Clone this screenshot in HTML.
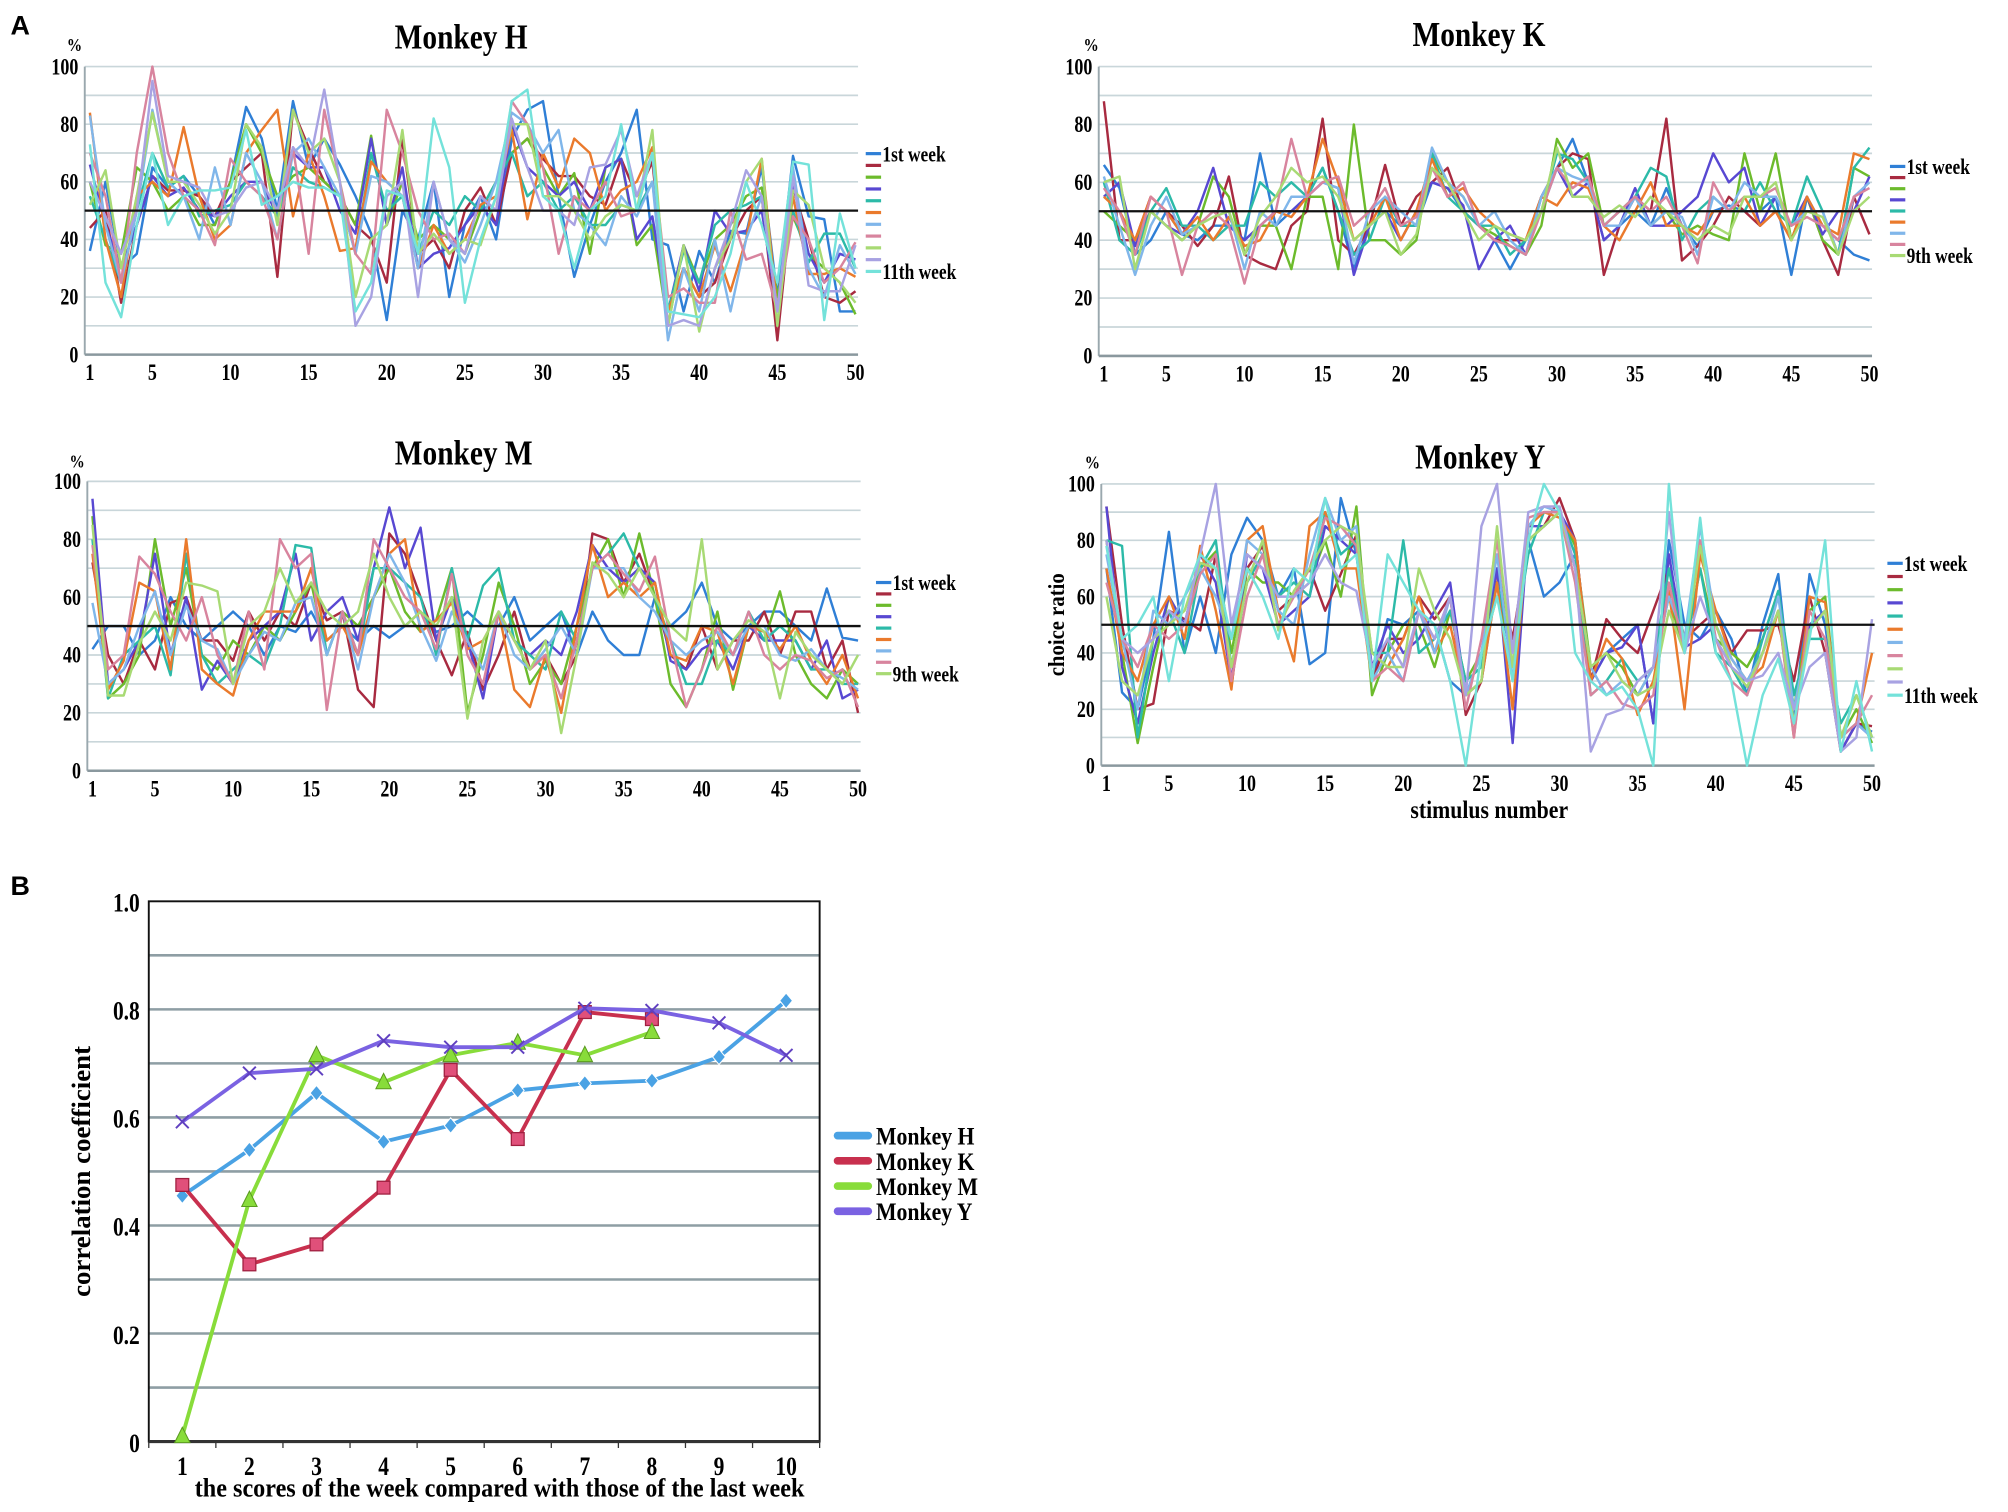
<!DOCTYPE html>
<html><head><meta charset="utf-8"><style>
html,body{margin:0;padding:0;background:#fff;}
svg{display:block;font-family:"Liberation Serif",serif;font-weight:bold;}
</style></head><body>
<svg id="fig" width="2008" height="1512" viewBox="0 0 1568 1181" xmlns="http://www.w3.org/2000/svg">
<text x="8" y="27" font-family="Liberation Sans" font-size="21" font-weight="bold">A</text>
<text x="8" y="699" font-family="Liberation Sans" font-size="21" font-weight="bold">B</text>
</svg>
<script>
const weekColors = ["#2f7fd6","#a82a40","#6cbb2c","#5848d2","#2cbaa8","#ea7a2c","#80b6ea","#d8849e","#a8da74","#a8a2e2","#74e2da"];
const xTicks = [1,5,10,15,20,25,30,35,40,45,50];
const yTicks = [0,20,40,60,80,100];

const h1=[36,60,30,35,65,58,62,55,45,60,86,75,50,88,65,75,66,55,42,12,50,40,60,20,45,55,40,75,85,88,55,27,45,60,70,85,40,38,15,36,25,43,42,65,20,69,48,47,15,15];
const h2=[44,50,18,45,62,57,57,55,48,60,65,70,27,85,72,60,55,45,40,25,75,35,40,30,50,58,45,70,75,68,62,62,55,52,68,55,67,15,30,20,25,40,50,55,5,58,40,20,18,22];
const h3=[60,38,35,65,60,50,55,45,45,60,80,70,55,62,65,60,55,45,76,45,60,40,45,40,35,50,60,70,75,65,55,63,35,65,68,38,45,10,38,25,40,45,55,58,20,48,35,30,25,14];
const h4=[66,45,30,45,62,55,58,50,48,55,60,60,48,70,65,65,50,42,75,45,65,30,35,37,45,52,45,80,65,60,55,60,50,65,68,40,48,15,38,22,50,42,43,50,15,60,35,25,35,33];
const h5=[55,40,25,50,70,58,62,48,50,52,60,55,48,65,60,58,55,35,70,50,55,35,50,45,55,50,60,70,55,60,50,55,45,45,52,50,60,15,36,25,45,50,52,55,15,50,32,42,42,30];
const h6=[84,40,20,55,60,55,79,55,40,45,70,78,85,48,70,55,36,37,67,60,55,30,45,35,40,52,55,78,47,70,58,75,70,50,57,60,72,15,30,20,38,22,40,68,15,55,28,28,30,27];
const h7=[83,45,25,50,85,60,55,40,65,45,70,60,40,70,75,65,55,35,62,60,55,30,60,40,32,45,60,84,80,70,78,50,45,38,55,48,60,5,30,15,40,15,40,55,15,65,30,20,38,28];
const h8=[70,55,25,70,100,70,55,50,38,68,60,55,40,72,35,85,60,35,28,85,70,50,40,42,35,55,50,88,80,65,35,55,50,60,48,50,70,20,23,18,18,50,33,35,15,48,40,25,30,39];
const h9=[52,64,30,55,84,60,60,52,42,50,80,72,45,85,70,75,60,20,40,45,78,35,42,35,40,38,55,80,80,55,55,50,40,48,52,50,78,10,38,8,30,40,60,68,10,57,52,30,25,18];
const h10=[60,48,35,50,95,62,60,58,48,50,58,60,50,72,65,92,60,10,20,55,60,20,60,40,35,55,50,82,65,50,50,45,65,66,78,55,70,10,12,10,30,45,64,55,15,62,24,22,22,38];
const h11=[73,25,13,45,70,45,55,57,57,58,78,52,55,60,58,58,55,15,25,57,55,35,82,65,18,40,55,88,92,55,50,30,50,55,80,50,70,15,14,13,20,35,60,45,25,67,66,12,49,30];

const k1=[66,58,35,40,50,42,40,45,45,40,70,45,50,55,65,50,30,45,50,45,45,60,58,50,45,40,30,40,50,65,75,60,40,45,50,45,58,45,38,50,52,50,50,55,28,55,45,40,35,33];
const k2=[88,40,40,55,50,45,38,45,62,35,32,30,45,50,82,40,35,45,66,45,55,60,65,50,45,40,40,40,55,65,70,68,28,45,55,50,82,33,38,45,55,50,45,50,40,55,40,28,55,42];
const k3=[50,45,40,50,45,40,45,62,55,35,45,45,30,55,55,30,80,40,40,35,40,70,60,55,45,42,38,35,45,75,65,70,45,50,55,45,50,42,45,42,40,70,50,70,40,55,40,35,65,62];
const k4=[55,60,38,50,45,42,50,65,45,40,45,50,50,55,60,58,28,45,50,40,50,60,58,52,30,40,45,35,55,65,55,60,40,45,58,45,45,50,55,70,60,65,45,55,45,55,42,50,50,62];
const k5=[60,40,35,50,58,45,45,40,45,45,60,55,60,55,65,50,35,40,55,45,45,70,55,50,45,45,35,40,50,70,68,60,45,50,55,65,62,40,50,55,50,50,60,50,45,62,50,35,65,72];
const k6=[55,50,40,55,50,42,48,40,48,38,40,50,48,55,75,60,40,45,55,40,50,68,55,58,50,45,42,40,55,52,60,58,45,40,50,60,45,45,42,50,50,55,45,50,40,55,45,42,70,68];
const k7=[62,45,28,45,55,42,45,50,50,30,50,45,55,55,60,58,32,50,55,50,45,72,60,55,45,50,40,35,55,65,62,60,45,45,55,45,50,48,35,55,50,60,55,55,45,50,50,35,55,60];
const k8=[58,50,35,55,50,28,45,50,45,25,45,50,75,55,60,62,45,50,58,45,48,65,55,60,45,40,38,35,50,65,58,62,45,50,55,50,55,45,32,60,50,55,55,58,45,48,45,40,55,58];
const k9=[60,62,30,50,45,40,45,48,50,35,48,55,65,60,62,55,40,45,50,35,42,65,60,50,40,45,42,40,50,72,55,55,48,52,48,55,50,45,40,45,42,55,55,60,40,50,48,35,50,55];

const m1=[42,50,50,40,45,60,50,45,50,55,50,40,50,48,55,45,50,45,50,46,50,55,48,50,55,50,50,60,45,50,55,40,55,45,40,40,60,50,55,65,50,45,50,55,55,50,45,63,46,45];
const m2=[72,40,30,45,35,58,60,45,45,38,55,45,55,50,65,52,55,28,22,82,75,60,45,33,48,28,40,55,35,40,30,40,82,80,65,75,60,40,35,50,35,45,45,55,40,55,55,35,45,20];
const m3=[88,25,30,40,80,50,70,40,35,45,40,50,45,55,65,40,55,50,60,70,55,48,52,70,20,40,65,50,30,38,30,50,70,80,60,82,60,30,22,35,55,28,50,45,62,40,30,25,35,30];
const m4=[94,30,35,45,75,40,60,28,38,30,45,50,55,75,45,55,60,45,70,91,70,84,45,60,45,25,55,45,40,45,40,55,78,70,65,70,65,38,35,42,45,35,50,45,45,45,35,45,25,28];
const m5=[80,25,40,45,50,33,75,40,30,35,40,36,50,78,77,40,55,40,70,70,65,60,40,70,45,64,70,45,40,35,55,45,70,75,82,70,60,45,30,30,45,40,55,45,50,45,35,35,30,30];
const m6=[75,28,38,65,62,35,80,35,30,26,45,55,55,55,70,45,50,40,60,75,80,48,52,58,42,45,55,28,22,40,20,50,78,60,65,60,65,40,38,50,48,30,50,48,42,50,38,30,40,25];
const m7=[58,30,35,50,62,40,57,45,42,30,40,48,45,58,60,40,55,35,60,75,65,50,38,55,45,35,55,40,35,42,50,40,70,70,70,60,55,45,40,45,48,40,50,50,40,38,42,35,32,28];
const m8=[78,35,40,74,68,55,45,60,40,30,55,35,80,70,75,21,55,40,80,70,60,55,42,68,40,30,55,45,35,40,25,45,70,75,68,62,74,45,22,35,50,40,55,40,35,40,38,32,35,22];
const m9=[85,26,26,44,55,45,65,64,62,30,50,55,70,58,65,55,50,55,75,60,50,55,50,60,18,45,55,45,35,45,13,40,72,68,60,70,60,50,45,80,35,45,52,48,25,48,40,35,30,40];

const y1=[70,26,20,45,83,40,60,40,75,88,80,60,70,36,40,95,75,30,52,50,55,50,30,25,30,65,35,80,60,65,75,30,40,45,50,15,80,50,45,55,45,25,50,68,15,68,50,10,15,12];
const y2=[92,50,20,22,55,52,48,75,28,70,78,55,60,70,55,68,82,30,45,45,60,52,60,18,30,70,45,80,85,95,80,30,52,45,40,55,70,45,50,55,40,48,48,50,30,60,40,5,15,14];
const y3=[80,40,8,35,60,50,70,76,40,70,65,65,60,65,80,60,92,25,40,50,50,35,55,30,40,60,40,80,85,90,78,35,40,35,25,35,60,40,70,45,40,35,45,62,20,55,60,10,20,8];
const y4=[92,35,15,40,60,50,75,65,30,75,70,50,55,60,85,80,75,35,50,40,45,55,65,25,40,70,8,85,85,90,80,30,40,42,50,15,75,42,45,50,35,30,40,55,15,50,55,5,15,10];
const y5=[80,78,10,45,55,40,70,80,35,65,75,60,65,60,90,75,80,40,40,80,40,45,55,30,35,65,40,75,90,90,75,25,30,38,30,35,70,40,70,40,35,25,45,62,25,45,45,15,25,10];
const y6=[70,40,30,50,60,45,78,55,27,80,85,55,37,85,90,70,70,30,35,45,60,40,50,25,30,65,20,85,90,88,80,30,45,38,18,30,62,20,75,55,38,30,35,55,10,60,58,10,15,40];
const y7=[75,45,20,55,50,60,70,60,45,80,75,55,50,75,95,80,85,30,40,30,55,40,60,25,40,75,30,85,92,90,70,35,25,30,25,35,60,45,85,50,38,30,40,60,20,48,55,10,15,10];
const y8=[65,45,35,50,45,50,68,75,30,60,75,50,60,70,88,85,78,30,35,30,55,45,60,20,45,80,40,88,90,90,65,25,30,22,20,25,65,40,80,45,30,25,40,55,10,55,45,10,15,25];
const y9=[60,30,25,45,50,55,72,70,35,65,80,48,62,70,80,85,82,40,35,35,70,55,45,25,30,85,35,80,85,90,70,35,40,30,25,28,55,40,78,50,35,28,40,55,15,48,55,10,25,10];
const y10=[80,45,40,45,55,50,75,100,50,75,70,60,60,65,75,65,62,35,45,35,55,45,60,25,85,100,40,90,92,92,70,5,18,20,30,35,90,40,60,45,35,30,32,40,20,35,40,5,10,52];
const y11=[78,45,50,60,30,60,75,70,45,70,60,45,70,65,95,70,75,30,75,65,55,50,30,0,40,60,30,80,100,90,40,30,25,28,20,0,100,40,88,40,30,0,25,38,15,45,80,5,30,5];

const corrCats=[1,2,3,4,5,6,7,8,9,10];
const corrTicks=[0,0.2,0.4,0.6,0.8,1.0];
const corrH=[0.455,0.54,0.645,0.555,0.585,0.65,0.663,0.668,0.712,0.816];
const corrK=[0.475,0.328,0.365,0.47,0.688,0.56,0.795,0.782];
const corrM=[0.01,0.447,0.715,0.665,0.715,0.738,0.715,0.758];
const corrY=[0.592,0.682,0.69,0.742,0.73,0.73,0.802,0.798,0.775,0.715];

const NS="http://www.w3.org/2000/svg";
const svg=document.getElementById('fig');
function mk(tag,attrs,parent){const e=document.createElementNS(NS,tag);for(const k in attrs)e.setAttribute(k,attrs[k]);(parent||svg).appendChild(e);return e;}
// condensed text: placed via transform with horizontal squeeze
function txt(parent,x,y,str,size,anchor,sx,rot){
  let tr='translate('+x+','+y+')';
  if(rot)tr+=' rotate('+rot+')';
  tr+=' scale('+(sx||0.82)+',1)';
  const t=mk('text',{x:0,y:0,'text-anchor':anchor||'start','font-size':size,transform:tr},parent);
  t.textContent=str;
  return t;
}

function panel(id,title,series,x0,x1,yTop,yBot,tx,ty,px,py,lx,ly,ldy,firstLab,lastLab,extra){
  const g=mk('g',{});
  
  
  const xs=i=>x0+(i-1)*(x1-x0)/49;
  const ys=v=>yBot-(v/100)*(yBot-yTop);
  const gl=x0-4, gr=x1+2;
  for(let v=10;v<=100;v+=10){const l=mk('line',{x1:gl,x2:gr,y1:ys(v),y2:ys(v),stroke:'#c9d6da','stroke-width':1.3},g);
    
    }
  const ax=mk('line',{x1:gl,x2:gl,y1:yTop,y2:yBot,stroke:'#9aa8ae','stroke-width':1.5},g);
  
  
  const bx=mk('line',{x1:gl,x2:gr,y1:yBot,y2:yBot,stroke:'#8a989e','stroke-width':2},g);
  
  
  yTicks.forEach(v=>{const t=txt(g,gl-5,ys(v)+6,String(v),18,'end',0.78);
    
    });
  xTicks.forEach(v=>{const t=txt(g,xs(v),yBot+20,String(v),18,'middle',0.78);
    
    });
  series.forEach((s,si)=>{
    const p=mk('polyline',{points:s.map((v,i)=>xs(i+1)+','+ys(v)).join(' '),fill:'none',stroke:weekColors[si],'stroke-width':1.9,'stroke-linejoin':'round'},g);
    
    
    const lg=mk('line',{x1:lx,x2:lx+12,y1:ly+si*ldy,y2:ly+si*ldy,stroke:weekColors[si],'stroke-width':2.5},g);
    
    
  });
  const f=txt(g,lx+13,ly+6,firstLab,17,'start',0.8);
  
  
  const la=txt(g,lx+13,ly+(series.length-1)*ldy+6,lastLab,17,'start',0.8);
  
  
  const ref=mk('line',{x1:gl,x2:gr,y1:ys(50),y2:ys(50),stroke:'#111','stroke-width':1.8},g);
  
  
  const tt=txt(g,tx,ty,title,27,'middle',0.85);
  
  
  const pc=txt(g,px,py,'%',14,'middle',0.85);
  
  
  if(extra){
    const a=txt(g,x0-33,(yTop+yBot)/2,'choice ratio',18,'middle',0.9,-90);
    
    
    const b=txt(g,(x0+x1)/2,yBot+41,'stimulus number',20,'middle',0.85);
    
    
  }
}
panel('monkey-h','Monkey H',[h1,h2,h3,h4,h5,h6,h7,h8,h9,h10,h11],70,668,52,277,360,38,58,40,676,120,9.2,'1st week','11th week',false);
panel('monkey-k','Monkey K',[k1,k2,k3,k4,k5,k6,k7,k8,k9],862,1460,52,278,1155,36,852,40,1476,130,8.7,'1st week','9th week',false);
panel('monkey-m','Monkey M',[m1,m2,m3,m4,m5,m6,m7,m8,m9],72,670,376,602,362,363,60,365,684,455,8.9,'1st week','9th week',false);
panel('monkey-y','Monkey Y',[y1,y2,y3,y4,y5,y6,y7,y8,y9,y10,y11],864,1462,378,598,1156,366,853,366,1474,440,10.3,'1st week','11th week',true);

// Panel B
(function(){
  const L=116,R=640,T=704,B=1126;
  const g=mk('g',{});
  
  
  const bw=(R-L)/corrCats.length;
  const xs=c=>L+(c-0.5)*bw;
  const ys=v=>B-v*(B-T);
  for(let k=1;k<10;k++){const l=mk('line',{x1:L,x2:R,y1:ys(k/10),y2:ys(k/10),stroke:'#8e9ea4','stroke-width':2},g);
    
    }
  const fr=mk('rect',{x:L,y:T,width:R-L,height:B-T,fill:'none',stroke:'#111','stroke-width':1.5},g);
  
  
  mk('line',{x1:L,x2:R,y1:B,y2:B,stroke:'#333','stroke-width':2.5},g);
  for(let k=0;k<=corrCats.length;k++){mk('line',{x1:L+k*bw,x2:L+k*bw,y1:B,y2:B+5,stroke:'#333','stroke-width':1},g);}
  corrTicks.forEach(v=>{const t=txt(g,L-7,ys(v)+8,(v===0?'0':v.toFixed(1)),21,'end',0.8);
    
    });
  corrCats.forEach(c=>{const t=txt(g,xs(c),B+26,String(c),21,'middle',0.8);
    
    });
  const yt=txt(g,70,(T+B)/2,'correlation coefficient',21,'middle',1.0,-90);
  
  
  const xt=txt(g,390,1169,'the scores of the week compared with those of the last week',21,'middle',0.9);
  
  
  const defs=[['Monkey H',corrH,'#4aa2e4','diamond'],['Monkey K',corrK,'#c8304e','square'],['Monkey M',corrM,'#88dc3a','triangle'],['Monkey Y',corrY,'#7a62e2','x']];
  defs.forEach((d,di)=>{
    const [name,vals,col,mark]=d;
    const p=mk('polyline',{points:vals.map((v,i)=>xs(i+1)+','+ys(v)).join(' '),fill:'none',stroke:col,'stroke-width':3,'stroke-linejoin':'round'},g);
    
    
    vals.forEach((v,i)=>{
      const cx=xs(i+1),cy=ys(v);let m;
      if(mark==='diamond')m=mk('polygon',{points:`${cx},${cy-6} ${cx+5},${cy} ${cx},${cy+6} ${cx-5},${cy}`,fill:col,stroke:'#fff','stroke-width':0.8},g);
      else if(mark==='square')m=mk('rect',{x:cx-5,y:cy-5,width:10,height:10,fill:'#e0507a',stroke:'#a02040','stroke-width':1},g);
      else if(mark==='triangle')m=mk('polygon',{points:`${cx},${cy-7} ${cx+6},${cy+5} ${cx-6},${cy+5}`,fill:col,stroke:'#5a9a20','stroke-width':0.8},g);
      else m=mk('path',{d:`M${cx-5},${cy-5}L${cx+5},${cy+5}M${cx+5},${cy-5}L${cx-5},${cy+5}`,stroke:'#6040c0','stroke-width':1.5},g);
      
      
    });
    const ly=887+di*19.7;
    const lgl=mk('line',{x1:654,x2:678,y1:ly,y2:ly,stroke:col,'stroke-width':6,'stroke-linecap':'round'},g);
    
    
    const lt=txt(g,684,ly+7,name,20,'start',0.85);
    
    
  });
})();
</script>
</body></html>
